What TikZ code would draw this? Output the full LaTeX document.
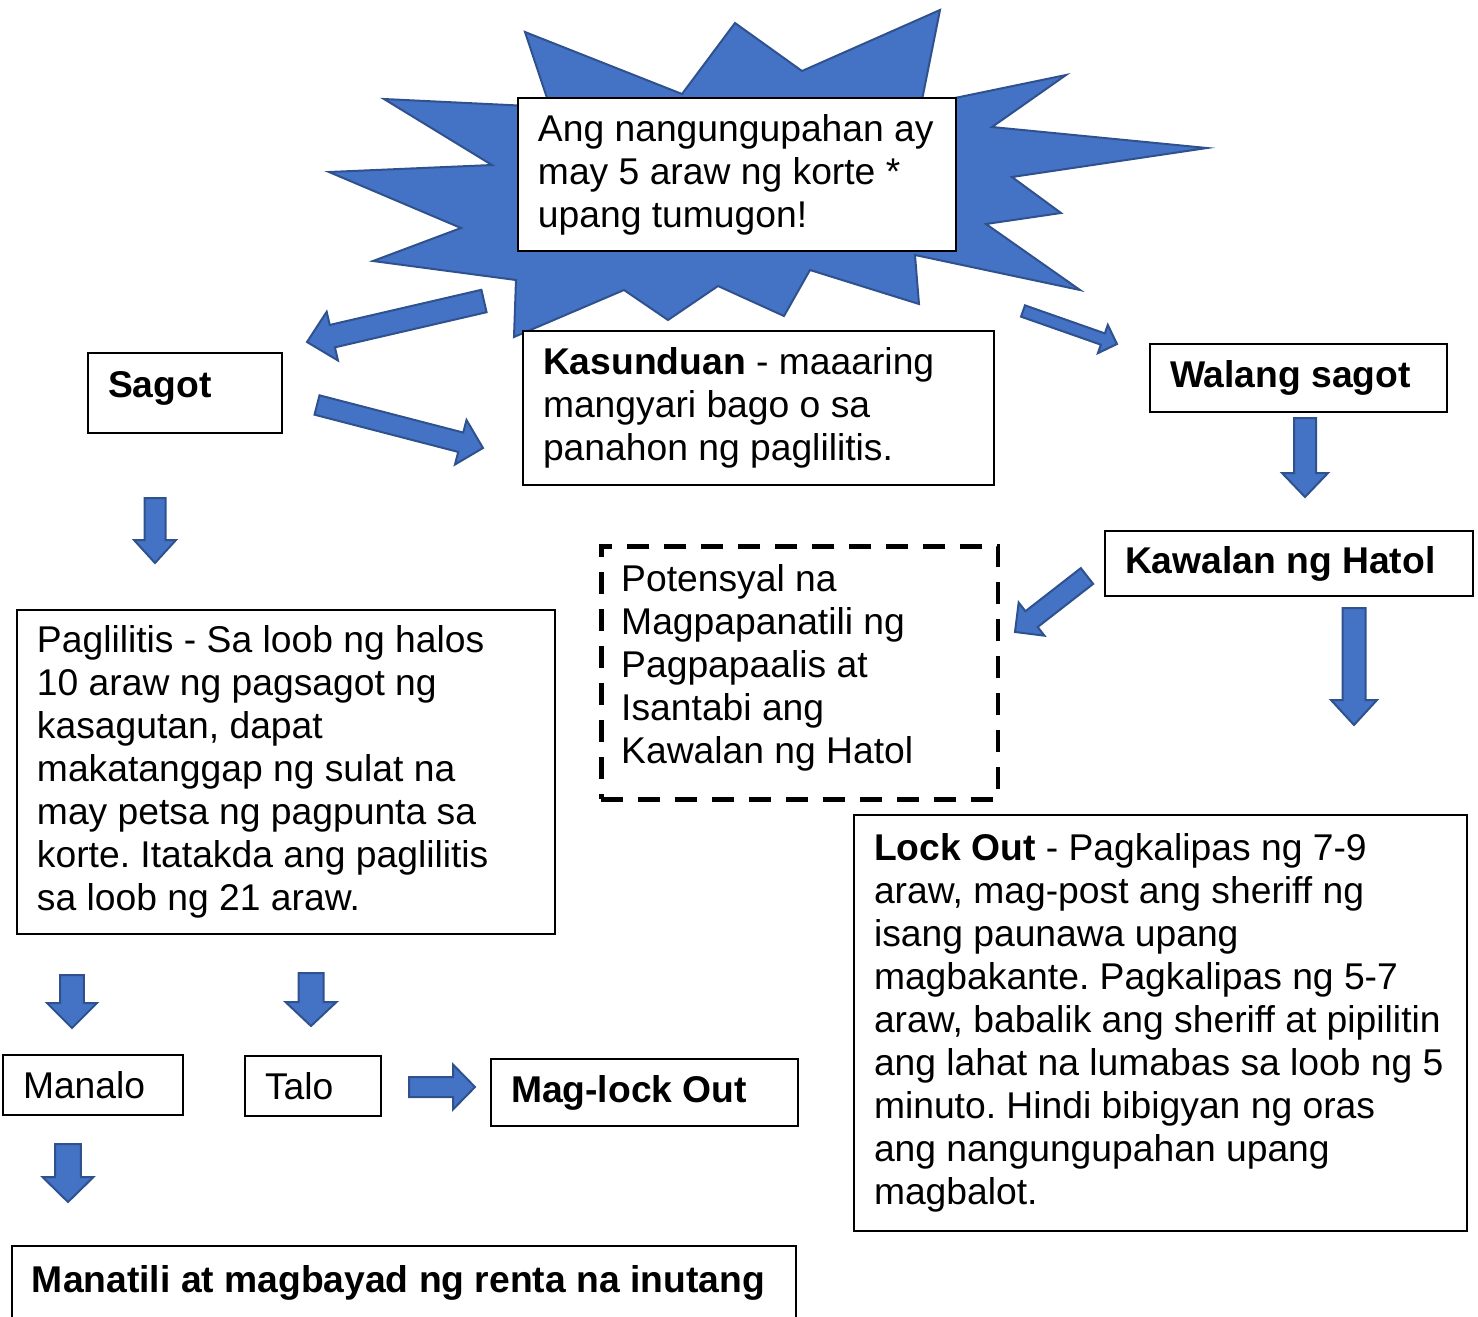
\documentclass[tikz,border=0pt]{standalone}
\usepackage{fontspec}
\setmainfont{Liberation Sans}
\usepackage{tikz}
\usetikzlibrary{calc}
\definecolor{burstfill}{HTML}{4472C4}
\definecolor{burstdraw}{HTML}{2F528F}
\newcommand{\boxfont}{\fontsize{10.6}{12.23}\selectfont\frenchspacing}

\begin{document}
\begin{tikzpicture}[
  x=0.1mm, y=-0.1mm,
  box/.style={draw, line width=0.2mm, fill=white, anchor=north west, align=flush left,
              inner xsep=2mm, inner ysep=1mm, font=\boxfont},
  dashbox/.style={box, line width=0.45mm, dash pattern=on 2.2mm off 1.5mm},
  burst/.style={fill=burstfill, draw=burstdraw, line width=0.2mm, line join=miter},
  arrshaft/.store in=\arrshaftw, arrhead/.store in=\arrheadw, arrtip/.store in=\arrtipl,
  arrshaft=1.1mm, arrhead=2.3mm, arrtip=2.4mm,
  blockarr/.style={fill=burstfill, draw=burstdraw, line width=0.2mm,
    to path={let \p1=($(\tikztotarget)!\arrtipl!(\tikztostart)$) in
      ($(\tikztostart)!\arrshaftw!90:(\tikztotarget)$)
      -- ($(\p1)!\arrshaftw!90:(\tikztotarget)$)
      -- ($(\p1)!\arrheadw!90:(\tikztotarget)$)
      -- (\tikztotarget)
      -- ($(\p1)!\arrheadw!-90:(\tikztotarget)$)
      -- ($(\p1)!\arrshaftw!-90:(\tikztotarget)$)
      -- ($(\tikztostart)!\arrshaftw!-90:(\tikztotarget)$) -- cycle}}
]
\useasboundingbox (0,0) rectangle (1478,1317);
\draw[burst] (525,32) -- (682,94) -- (735,23) -- (802,71) -- (940,10) -- (921,105)
  -- (1066,75) -- (992,127) -- (1207,148) -- (1012,177) -- (1061,213) -- (986,224)
  -- (1080,290) -- (915,255) -- (919,304) -- (810,270) -- (784,316) -- (718,286)
  -- (668,320) -- (624,290) -- (514,337) -- (516,280) -- (373,261) -- (461,228)
  -- (329,172) -- (492,165) -- (384,99) -- (550,107) -- cycle;
\node[box, text width=39.8mm, minimum height=15.3mm] (notice) at (517,97)
  {Ang nangungupahan ay\\may 5 araw ng korte *\\upang tumugon!};
\node[box, text width=15.4mm, minimum height=8mm, text depth=1.8mm] (sagot) at (87,352) {\textbf{Sagot}};
\node[box, text width=43.1mm, minimum height=15.4mm] (kasunduan) at (522,330)
  {\textbf{Kasunduan} - maaaring\\mangyari bago o sa\\panahon ng paglilitis.};
\node[box, text width=25.7mm, minimum height=6.8mm] (walang) at (1149,343) {\textbf{Walang sagot}};
\node[box, text width=32.8mm, minimum height=6.5mm] (kawalan) at (1104,530) {\textbf{Kawalan ng Hatol}};
\node[dashbox, text width=35.7mm, minimum height=25.3mm, text depth=19mm] (potensyal) at (599,544)
  {Potensyal na\\Magpapanatili ng\\Pagpapaalis at\\Isantabi ang\\Kawalan ng Hatol};
\node[box, text width=49.8mm, minimum height=32.4mm] (paglilitis) at (16,609)
  {Paglilitis - Sa loob ng halos\\10 araw ng pagsagot ng\\kasagutan, dapat\\makatanggap ng sulat na\\may petsa ng pagpunta sa\\korte. Itatakda ang paglilitis\\sa loob ng 21 araw.};
\node[box, text width=57.3mm, minimum height=41.6mm] (lockout) at (853,814)
  {\textbf{Lock Out} - Pagkalipas ng 7-9\\araw, mag-post ang sheriff ng\\isang paunawa upang\\magbakante. Pagkalipas ng 5-7\\araw, babalik ang sheriff at pipilitin\\ang lahat na lumabas sa loob ng 5\\minuto. Hindi bibigyan ng oras\\ang nangungupahan upang\\magbalot.};
\node[box, text width=14mm, minimum height=6mm] (manalo) at (2,1054) {Manalo};
\node[box, text width=9.6mm, minimum height=6mm] (talo) at (244,1055) {Talo};
\node[box, text width=26.7mm, minimum height=6.7mm] (maglock) at (490,1058) {\textbf{Mag-lock Out}};
\node[box, text width=74.4mm, text height=3.6mm, text depth=7mm] (manatili) at (11,1245)
  {\textbf{Manatili at magbayad ng renta na inutang}};
\coordinate (starL) at (484,301);
\coordinate (sagotR) at (307,342);
\coordinate (sagotE) at (317,405);
\coordinate (kasL) at (483,448);
\coordinate (starR) at (1023,311);
\coordinate (walangL) at (1117,344);
\coordinate (walangB) at (1305,418);
\coordinate (kawalanT) at (1305,497);
\coordinate (kawalanL) at (1087,576);
\coordinate (potR) at (1015,632);
\coordinate (kawalanB) at (1354,608);
\coordinate (lockT) at (1354,725);
\coordinate (sagotB) at (155,498);
\coordinate (pagT) at (155,563);
\coordinate (pagL) at (72,975);
\coordinate (manaloT) at (72,1028);
\coordinate (pagR) at (311,973);
\coordinate (taloT) at (311,1026);
\coordinate (manaloB) at (68,1144);
\coordinate (manatiliT) at (68,1202);
\coordinate (taloR) at (409,1087);
\coordinate (maglockL) at (475,1087);
\draw[blockarr, arrshaft=1.15mm, arrhead=2.5mm, arrtip=2.6mm] (starL) to (sagotR);
\draw[blockarr, arrshaft=1mm, arrhead=2.3mm, arrtip=2.3mm] (sagotE) to (kasL);
\draw[blockarr, arrshaft=0.6mm, arrhead=1.5mm, arrtip=1.5mm] (starR) to (walangL);
\draw[blockarr, arrshaft=1.1mm, arrhead=2.3mm, arrtip=2.4mm] (walangB) to (kawalanT);
\draw[blockarr, arrshaft=1mm, arrhead=2.1mm, arrtip=2.1mm] (kawalanL) to (potR);
\draw[blockarr, arrshaft=1.15mm, arrhead=2.3mm, arrtip=2.5mm] (kawalanB) to (lockT);
\draw[blockarr, arrshaft=1.05mm, arrhead=2.1mm, arrtip=2.3mm] (sagotB) to (pagT);
\draw[blockarr, arrshaft=1.2mm, arrhead=2.5mm, arrtip=2.5mm] (pagL) to (manaloT);
\draw[blockarr, arrshaft=1.25mm, arrhead=2.55mm, arrtip=2.4mm] (pagR) to (taloT);
\draw[blockarr, arrshaft=1.3mm, arrhead=2.55mm, arrtip=2.5mm] (manaloB) to (manatiliT);
\draw[blockarr, arrshaft=1mm, arrhead=2.25mm, arrtip=2.2mm] (taloR) to (maglockL);
\end{tikzpicture}
\end{document}
